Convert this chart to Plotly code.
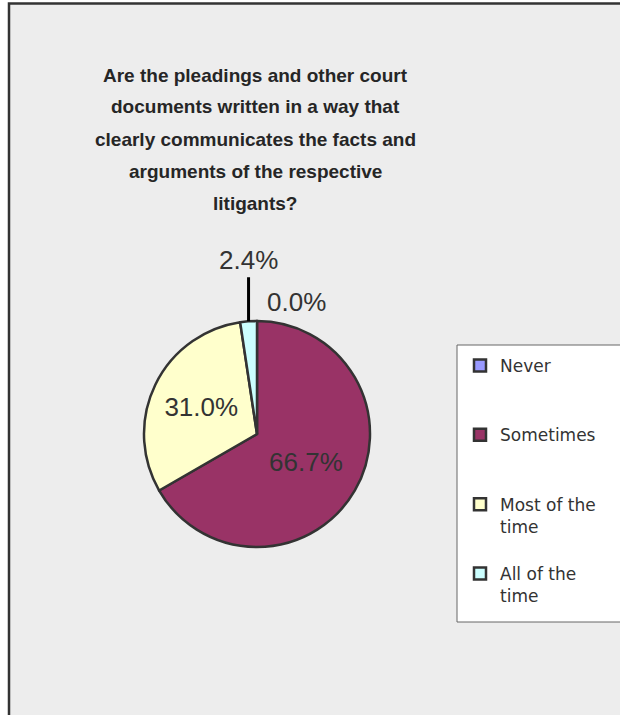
import math
import plotly.graph_objects as go

# ---- data ----
categories = ["Never", "Sometimes", "Most of the time", "All of the time"]
legend_text = ["Never<br> <br> ", "Sometimes<br> <br> ", "Most of the<br>time<br> ", "All of the<br>time"]
counts = [0, 28, 13, 1]
colors = ["#9999FF", "#993366", "#FFFFCC", "#CCFFFF"]
text_pos = ["none", "inside", "inside", "none"]
title_lines = [
    "Are the pleadings and other court",
    "documents written in a way that",
    "clearly communicates the facts and",
    "arguments of the respective",
    "litigants?",
]

W, H = 620, 715
FONT = "Liberation Sans, Arial, sans-serif"
LFONT = "DejaVu Sans, Verdana, sans-serif"

# pie geometry (pixels)
PX0, PX1, PY0, PY1 = 144, 370, 321, 547
CX, CY, R = (PX0 + PX1) / 2, (PY0 + PY1) / 2, (PX1 - PX0) / 2

fig = go.Figure()
fig.add_trace(go.Pie(
    labels=legend_text,
    values=counts,
    customdata=categories,
    sort=False,
    direction="clockwise",
    rotation=0,
    marker=dict(colors=colors, line=dict(color="#333333", width=2.5)),
    texttemplate="%{percent:.1%}",
    textposition=text_pos,
    textfont=dict(family=FONT, size=26, color="#333333"),
    insidetextorientation="horizontal",
    domain=dict(x=[PX0 / W, PX1 / W], y=[1 - PY1 / H, 1 - PY0 / H]),
    showlegend=True,
    hoverinfo="label+percent",
))

total = sum(counts)
annotations = []
cum = 0
for cat, v, pos in zip(categories, counts, text_pos):
    frac = v / total
    mid = 2 * math.pi * (cum + frac / 2)
    cum += frac
    if pos != "none":
        continue
    px = CX + R * math.sin(mid)
    py = CY - R * math.cos(mid)
    label = "%.1f%%" % (100 * frac)
    if v > 0:
        annotations.append(dict(
            text=label, xref="paper", yref="paper", x=px / W, y=1 - py / H,
            showarrow=True, arrowhead=0, arrowwidth=3, arrowcolor="#000000",
            ax=0, ay=-44, standoff=0, yanchor="bottom", xanchor="center",
            font=dict(family=FONT, size=26, color="#333333"),
        ))
    else:
        annotations.append(dict(
            text=label, xref="paper", yref="paper", x=px / W, y=1 - py / H,
            showarrow=False, xanchor="center", yanchor="middle",
            xshift=39, yshift=19,
            font=dict(family=FONT, size=26, color="#333333"),
        ))

for i, line in enumerate(title_lines):
    annotations.append(dict(
        text="<b>%s</b>" % line, xref="paper", yref="paper",
        x=255 / W, y=1 - (75 + 32 * i) / H, xanchor="center", yanchor="middle",
        showarrow=False, font=dict(family=FONT, size=19, color="#262626"),
    ))

shapes = [
    dict(type="rect", xref="paper", yref="paper",
         x0=9 / W, x1=1.05, y0=-0.05, y1=1 - 3.5 / H,
         fillcolor="#EDEDED", line=dict(color="#333333", width=2.5), layer="below"),
    dict(type="rect", xref="paper", yref="paper",
         x0=457 / W, x1=1.02, y0=1 - 622 / H, y1=1 - 345 / H,
         fillcolor="white", line=dict(color="#666666", width=1), layer="below"),
]

fig.update_layout(
    width=W, height=H,
    margin=dict(l=0, r=0, t=0, b=0),
    paper_bgcolor="white",
    plot_bgcolor="white",
    shapes=shapes,
    annotations=annotations,
    legend=dict(
        x=460 / W, y=1 - 348 / H, xanchor="left", yanchor="top",
        bgcolor="rgba(0,0,0,0)", borderwidth=0,
        font=dict(family=LFONT, size=17, color="#333333"),
        valign="top", traceorder="normal",
    ),
)

fig.write_html(
    "out.html",
    config={"displayModeBar": False},
    post_script="document.body.style.margin='0';document.body.style.overflow='hidden';",
)
